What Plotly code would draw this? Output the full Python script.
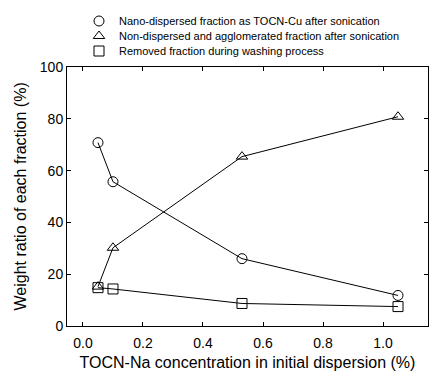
import plotly.graph_objects as go

conc = [0.05, 0.10, 0.53, 1.05]
nano_dispersed = [70.8, 55.7, 26.0, 11.8]
non_dispersed = [15.2, 30.2, 65.4, 80.8]
removed = [14.8, 14.3, 8.7, 7.5]

series = [
    ("Nano-dispersed fraction as TOCN-Cu after sonication", nano_dispersed, "circle-open", "legend"),
    ("Non-dispersed and agglomerated fraction after sonication", non_dispersed, "triangle-up-open", "legend2"),
    ("Removed fraction during washing process", removed, "square-open", "legend3"),
]

fig = go.Figure()
for name, vals, sym, lg in series:
    fig.add_trace(go.Scatter(
        x=conc, y=vals, mode="lines", showlegend=False,
        line=dict(color="black", width=1), hoverinfo="skip"))
for name, vals, sym, lg in series:
    fig.add_trace(go.Scatter(
        x=conc, y=vals, mode="markers", name=name, showlegend=True, legend=lg,
        marker=dict(symbol=sym, size=10, color="black", line=dict(color="black", width=1))))

W, H = 429.0, 376.0
ML, MR, MT, MB = 67, 1, 67, 50

def legend_at(ycenter):
    return dict(x=79 / W, xref="container", xanchor="left",
                y=1 - ycenter / H, yref="container", yanchor="middle",
                font=dict(size=11, family="Liberation Sans, Arial, sans-serif", color="black"),
                bgcolor="rgba(0,0,0,0)", borderwidth=0, itemwidth=30)

fig.update_layout(
    width=int(W), height=int(H),
    margin=dict(l=ML, r=MR, t=MT, b=MB, autoexpand=False),
    paper_bgcolor="white", plot_bgcolor="white",
    font=dict(family="Liberation Sans, Arial, sans-serif", color="black", size=14),
    legend=legend_at(21),
    legend2=legend_at(36),
    legend3=legend_at(51),
    xaxis=dict(range=[-0.0533, 1.15], tickvals=[0, 0.2, 0.4, 0.6, 0.8, 1.0],
               ticktext=["0.0", "0.2", "0.4", "0.6", "0.8", "1.0"],
               ticks="inside", ticklen=4, tickcolor="black", mirror="ticks",
               ticklabelstandoff=4,
               showline=True, linecolor="black", linewidth=1, showgrid=False, zeroline=False,
               title=dict(text="TOCN-Na concentration in initial dispersion (%)", font=dict(size=16), standoff=7)),
    yaxis=dict(range=[0, 100], tickvals=[0, 20, 40, 60, 80, 100],
               ticks="inside", ticklen=4, tickcolor="black", mirror="ticks",
               showline=True, linecolor="black", linewidth=1, showgrid=False, zeroline=False),
    annotations=[dict(text="Weight ratio of each fraction (%)", textangle=-90,
                      xref="paper", yref="paper", x=(20 - ML) / (W - ML - MR), y=0.5,
                      xanchor="center", yanchor="middle", showarrow=False,
                      font=dict(size=16))],
)

fig.write_html("out.html", config={"displayModeBar": False},
               post_script="document.body.style.margin='0';")
